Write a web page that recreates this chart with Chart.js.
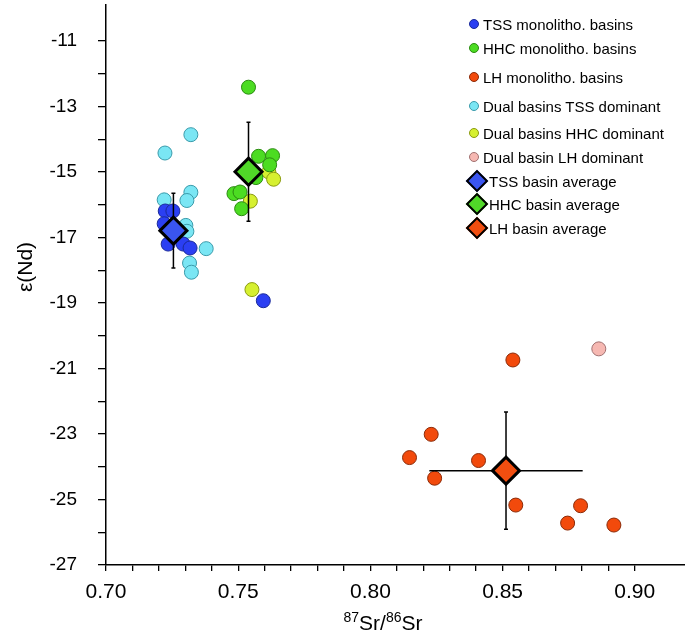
<!DOCTYPE html>
<html>
<head>
<meta charset="utf-8">
<script src="https://cdn.jsdelivr.net/npm/chart.js@4"></script>
<style>
  html, body { margin: 0; padding: 0; background: #fff; }
  #wrap { position: relative; width: 685px; height: 637px; }
  #legend { position: absolute; left: 0; top: 0; font-family: "Liberation Sans", Arial, sans-serif; font-size: 15px; color: #000; }
  .row { position: absolute; display: flex; align-items: center; height: 20px; white-space: nowrap; }
  .mark { width: 19px; display: flex; justify-content: center; align-items: center; }
  .mark.big { width: 25px; }
  .dot { width: 8px; height: 8px; border-radius: 50%; border: 1px solid; }
  .dia { width: 12px; height: 12px; border: 2px solid #000; transform: rotate(45deg); }
</style>
</head>
<body>
<div id="wrap">
  <canvas id="chart"></canvas>
  <div id="legend"></div>
</div>
<script>
// series values
const tssMonoX = [0.7224, 0.7253, 0.7220, 0.7235, 0.7292, 0.7318, 0.7595];
const tssMonoY = [-16.19, -16.19, -16.58, -17.20, -17.20, -17.32, -18.93];

const hhcMonoX = [0.7539, 0.7577, 0.7630, 0.7619, 0.7567, 0.7484, 0.7507, 0.7513];
const hhcMonoY = [-12.41, -14.52, -14.50, -14.78, -15.17, -15.66, -15.61, -16.12];

const lhMonoX = [0.8539, 0.8230, 0.8148, 0.8409, 0.8243, 0.8550, 0.8795, 0.8746, 0.8921];
const lhMonoY = [-20.74, -23.01, -23.72, -23.81, -24.35, -25.17, -25.19, -25.72, -25.78];

const dualTssX = [0.7321, 0.7223, 0.7321, 0.7306, 0.7220, 0.7302, 0.7306, 0.7379, 0.7316, 0.7323];
const dualTssY = [-13.86, -14.42, -15.62, -15.87, -15.85, -16.63, -16.81, -17.34, -17.78, -18.06];

const dualHhcX = [0.7616, 0.7634, 0.7546, 0.7552];
const dualHhcY = [-15.00, -15.22, -15.89, -18.59];

const dualLhX = [0.8864];
const dualLhY = [-20.40];

// basin averages with error bars
const avgNames = ['TSS basin average', 'HHC basin average', 'LH basin average'];
const avgX = [0.7255, 0.7539, 0.8513];
const avgY = [-16.79, -14.99, -24.12];
const avgXErr = [0.004, 0.004, 0.029];
const avgYErr = [1.14, 1.51, 1.79];
const avgColors = ['#3a55f0', '#50d828', '#f24e10'];

// axis ticks
const xTickLabels = ['0.70', '0.75', '0.80', '0.85', '0.90'];
const yTickLabels = [-11, -13, -15, -17, -19, -21, -23, -25, -27];

const toPts = (xs, ys) => xs.map((x, i) => ({ x: x, y: ys[i] }));

// circle series: name, x, y, fill, border
const circleSeries = [
    { name: 'TSS monolitho. basins', x: tssMonoX, y: tssMonoY, fill: '#2b3ff2', line: '#1a2a9a', order: 1 },
    { name: 'HHC monolitho. basins', x: hhcMonoX, y: hhcMonoY, fill: '#4cdc22', line: '#2a8a10', order: 1 },
    { name: 'LH monolitho. basins', x: lhMonoX, y: lhMonoY, fill: '#f24a0c', line: '#8a2a08', order: 1 },
    { name: 'Dual basins TSS dominant', x: dualTssX, y: dualTssY, fill: '#7ae6f4', line: '#3a9aaa', order: 2 },
    { name: 'Dual basins HHC dominant', x: dualHhcX, y: dualHhcY, fill: '#d6f030', line: '#8a9a10', order: 2 },
    { name: 'Dual basin LH dominant', x: dualLhX, y: dualLhY, fill: '#f6b8b2', line: '#a07070', order: 2 }
];

const datasets = circleSeries.map(s => ({
    label: s.name,
    data: toPts(s.x, s.y),
    backgroundColor: s.fill,
    borderColor: s.line,
    borderWidth: 1,
    pointRadius: 7,
    pointHoverRadius: 7,
    order: s.order
}));

avgNames.forEach((name, i) => {
    datasets.push({
        label: name,
        data: [{ x: avgX[i], y: avgY[i] }],
        errX: avgXErr[i],
        errY: avgYErr[i],
        pointStyle: 'rectRot',
        backgroundColor: avgColors[i],
        borderColor: '#000',
        borderWidth: 3,
        pointRadius: 13.5,
        pointHoverRadius: 13.5,
        order: 0
    });
});

// error bars go under the diamonds, over the circles
const errorBars = {
    id: 'errorBars',
    beforeDatasetDraw(chart, args) {
        const ds = chart.data.datasets[args.index];
        if (ds.errY === undefined) return;
        const xs = chart.scales.x, ys = chart.scales.y;
        const ctx = chart.ctx;
        ctx.save();
        ctx.strokeStyle = '#000';
        ctx.lineWidth = 1.5;
        ds.data.forEach(p => {
            const cx = xs.getPixelForValue(p.x), cy = ys.getPixelForValue(p.y);
            const x0 = xs.getPixelForValue(p.x - ds.errX), x1 = xs.getPixelForValue(p.x + ds.errX);
            const y0 = ys.getPixelForValue(p.y + ds.errY), y1 = ys.getPixelForValue(p.y - ds.errY);
            ctx.beginPath();
            ctx.moveTo(cx, y0); ctx.lineTo(cx, y1);
            ctx.moveTo(cx - 2, y0); ctx.lineTo(cx + 2, y0);
            ctx.moveTo(cx - 2, y1); ctx.lineTo(cx + 2, y1);
            ctx.moveTo(x0, cy); ctx.lineTo(x1, cy);
            ctx.stroke();
        });
        ctx.restore();
    }
};

// axis titles, with superscripts for the isotopes
const axisTitles = {
    id: 'axisTitles',
    afterDraw(chart) {
        const ctx = chart.ctx;
        ctx.save();
        ctx.fillStyle = '#000';
        ctx.textBaseline = 'alphabetic';
        const big = '21px "Liberation Sans", Arial, sans-serif';
        const small = '14px "Liberation Sans", Arial, sans-serif';
        const parts = [['87', small, -8], ['Sr/', big, 0], ['86', small, -8], ['Sr', big, 0]];
        let w = 0;
        parts.forEach(p => { ctx.font = p[1]; w += ctx.measureText(p[0]).width; });
        let x = 383 - w / 2;
        parts.forEach(p => {
            ctx.font = p[1];
            ctx.fillText(p[0], x, 630 + p[2]);
            x += ctx.measureText(p[0]).width;
        });
        ctx.translate(26, 267);
        ctx.rotate(-Math.PI / 2);
        ctx.font = big;
        ctx.textAlign = 'center';
        ctx.textBaseline = 'middle';
        ctx.fillText('\u03b5(Nd)', 0, 0);
        ctx.restore();
    }
};

const fam = '"Liberation Sans", Arial, sans-serif';

new Chart(document.getElementById('chart'), {
    type: 'scatter',
    data: { datasets: datasets },
    options: {
        responsive: true,
        maintainAspectRatio: false,
        animation: false,
        layout: { autoPadding: false, padding: { top: 5, right: 0, left: 0, bottom: 0 } },
        plugins: { legend: { display: false }, tooltip: { enabled: false } },
        scales: {
            x: {
                type: 'linear',
                min: 0.70,
                max: 0.919,
                afterFit: s => { s.height = 72; s.paddingLeft = 0; s.paddingRight = 0; },
                afterBuildTicks: s => { s.ticks = s.ticks.filter(t => Math.abs(t.value * 100 - Math.round(t.value * 100)) < 1e-6); },
                ticks: {
                    stepSize: 0.01,
                    autoSkip: false,
                    maxRotation: 0,
                    color: '#000',
                    font: { family: fam, size: 21 },
                    padding: 9,
                    callback: v => {
                        const lbl = v.toFixed(2);
                        return xTickLabels.includes(lbl) ? lbl : '';
                    }
                },
                grid: { drawOnChartArea: false, tickLength: 6, color: '#000', lineWidth: 1.3 },
                border: { color: '#000', width: 1.5 }
            },
            y: {
                type: 'linear',
                min: -27,
                max: -9.9,
                afterFit: s => { s.width = 106; s.paddingTop = 0; s.paddingBottom = 0; },
                afterBuildTicks: s => { s.ticks = s.ticks.filter(t => Number.isInteger(t.value)); },
                ticks: {
                    stepSize: 1,
                    autoSkip: false,
                    color: '#000',
                    font: { family: fam, size: 19 },
                    padding: 21,
                    callback: v => yTickLabels.includes(v) ? String(v) : ''
                },
                grid: { drawOnChartArea: false, tickLength: 8, color: '#000', lineWidth: 1.3 },
                border: { color: '#000', width: 1.5 }
            }
        }
    },
    plugins: [errorBars, axisTitles]
});

// legend, built from the series lists
const legendTops = [24, 48, 77, 106, 133, 157, 181, 204, 228];
const legend = document.getElementById('legend');
const legendItems = circleSeries.map(s => ({ name: s.name, fill: s.fill, line: s.line, dia: false }))
    .concat(avgNames.map((n, i) => ({ name: n, fill: avgColors[i], line: '#000', dia: true })));
legendItems.forEach((it, i) => {
    const row = document.createElement('div');
    row.className = 'row';
    row.style.top = (legendTops[i] - 10) + 'px';
    row.style.left = (it.dia ? 464 : 464) + 'px';
    const mark = it.dia
        ? `<span class="mark big"><span class="dia" style="background:${it.fill}"></span></span>`
        : `<span class="mark"><span class="dot" style="background:${it.fill};border-color:${it.line}"></span></span>`;
    row.innerHTML = `${mark}<span>${it.name}</span>`;
    legend.appendChild(row);
});
</script>
</body>
</html>
